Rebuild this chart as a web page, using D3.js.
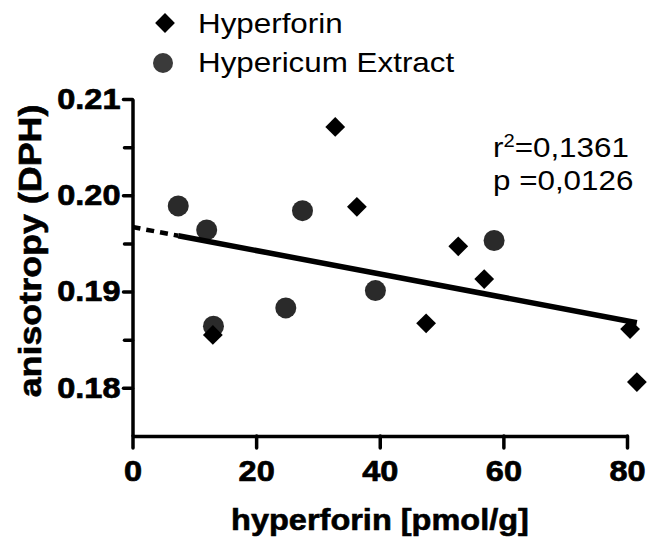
<!DOCTYPE html>
<html>
<head>
<meta charset="utf-8">
<script src="https://cdn.jsdelivr.net/npm/d3@7"></script>
<style>
  body { margin: 0; background: #fff; }
  text { font-family: "Liberation Sans", Arial, Helvetica, sans-serif; fill: #000; }
</style>
</head>
<body>
<div id="chart"></div>
<script>
// data
const hyperforinX = [32.8, 36.3, 52.7, 56.9, 47.5, 80.5, 81.6, 13.0];
const hyperforinY = [0.2071, 0.1988, 0.1947, 0.1913, 0.1867, 0.1861, 0.1806, 0.1855];
const extractX = [7.4, 12.0, 13.1, 27.5, 24.8, 39.3, 58.5];
const extractY = [0.1989, 0.1964, 0.1864, 0.1984, 0.1883, 0.1901, 0.1953];
const fitIntercept = 0.1967, fitSlope = -0.0001217;
const xTicks = [0, 20, 40, 60, 80];
const yTicks = [0.18, 0.19, 0.20, 0.21];
const yMinorTicks = [0.185, 0.195, 0.205];
const statLines = ["0,1361", "0,0126"];

const width = 661, height = 537;
const stretch = 1.12; // the scan is a little wider than the font

const svg = d3.select("#chart").append("svg")
    .attr("width", width)
    .attr("height", height);

const x = d3.scaleLinear().domain([0, 80]).range([132.5, 627]);
const y = d3.scaleLinear().domain([0.175, 0.21]).range([436, 99]);

function widen(sel) {
    sel.each(function() {
        const w = this.getComputedTextLength();
        d3.select(this).attr("textLength", w * stretch).attr("lengthAdjust", "spacingAndGlyphs");
    });
}

// y axis
svg.append("g")
    .attr("transform", `translate(${x(0)},0)`)
    .call(d3.axisLeft(y).tickValues(yTicks).tickSize(9).tickSizeOuter(0).tickPadding(3)
        .tickFormat(d3.format(".2f")));
svg.append("g")
    .attr("transform", `translate(${x(0)},0)`)
    .call(d3.axisLeft(y).tickValues(yMinorTicks).tickSize(8).tickSizeOuter(0).tickFormat(""))
    .call(g => g.select(".domain").remove());

// x axis
svg.append("g")
    .attr("transform", `translate(0,${y(0.175)})`)
    .call(d3.axisBottom(x).tickValues(xTicks).tickSize(12).tickSizeOuter(0).tickPadding(12));

svg.selectAll(".domain").attr("stroke", "#000").attr("stroke-width", 3.5);
svg.selectAll(".tick line").attr("stroke", "#000").attr("stroke-width", 3.5).attr("stroke-linecap", "round");
svg.selectAll(".tick text")
    .attr("font-size", 29)
    .attr("font-weight", "bold")
    .attr("font-family", "'Liberation Sans', Arial, sans-serif")
    .attr("fill", "#000")
    .attr("stroke", "#000")
    .attr("stroke-width", 0.7)
    .call(widen);

// axis titles
svg.append("text")
    .attr("x", 380)
    .attr("y", 530)
    .attr("text-anchor", "middle")
    .attr("font-size", 29)
    .attr("font-weight", "bold")
    .attr("stroke", "#000")
    .attr("stroke-width", 0.6)
    .text("hyperforin [pmol/g]")
    .call(widen);

svg.append("text")
    .attr("transform", "translate(41,251) rotate(-90)")
    .attr("text-anchor", "middle")
    .attr("font-size", 32)
    .attr("font-weight", "bold")
    .attr("stroke", "#000")
    .attr("stroke-width", 0.6)
    .text("anisotropy (DPH)")
    .call(widen);

// points
const diamond = d3.symbol().type(d3.symbolDiamond2).size(250);
const extract = extractX.map((v, i) => ({x: v, y: extractY[i]}));
const hyper = hyperforinX.map((v, i) => ({x: v, y: hyperforinY[i]}));

svg.append("g").selectAll("circle")
    .data(extract)
    .join("circle")
    .attr("cx", d => x(d.x))
    .attr("cy", d => y(d.y))
    .attr("r", 10.5)
    .attr("fill", "#2a2a2a");

svg.append("g").selectAll("path")
    .data(hyper)
    .join("path")
    .attr("transform", d => `translate(${x(d.x)},${y(d.y)})`)
    .attr("d", diamond)
    .attr("fill", "#000");

// regression line: dashed extrapolation to 0, solid over the data range
const allX = hyperforinX.concat(extractX);
const xMin = d3.min(allX), xMax = d3.max(allX);
const fit = v => fitIntercept + fitSlope * v;

svg.append("line")
    .attr("x1", x(0)).attr("y1", y(fit(0)))
    .attr("x2", x(xMin)).attr("y2", y(fit(xMin)))
    .attr("stroke", "#000")
    .attr("stroke-width", 4.5)
    .attr("stroke-dasharray", "8,6");

svg.append("line")
    .attr("x1", x(xMin)).attr("y1", y(fit(xMin)))
    .attr("x2", x(xMax)).attr("y2", y(fit(xMax)))
    .attr("stroke", "#000")
    .attr("stroke-width", 5.5);

// legend
const legend = svg.append("g");
legend.append("path")
    .attr("transform", "translate(165,23)")
    .attr("d", diamond)
    .attr("fill", "#000");
legend.append("circle")
    .attr("cx", 163).attr("cy", 63).attr("r", 10)
    .attr("fill", "#3a3a3a");
legend.append("text")
    .attr("x", 198).attr("y", 33)
    .attr("font-size", 28)
    .text("Hyperforin")
    .call(widen);
legend.append("text")
    .attr("x", 198).attr("y", 72)
    .attr("font-size", 28)
    .text("Hypericum Extract")
    .call(widen);

// statistics
const r2 = svg.append("text")
    .attr("x", 493).attr("y", 157)
    .attr("font-size", 28);
r2.append("tspan").text("r");
r2.append("tspan").attr("font-size", 18).attr("dy", -10).text("2");
r2.append("tspan").attr("dy", 10).text("=" + statLines[0]);
r2.call(widen);

svg.append("text")
    .attr("x", 493).attr("y", 190)
    .attr("font-size", 28)
    .text("p =" + statLines[1])
    .call(widen);
</script>
</body>
</html>
